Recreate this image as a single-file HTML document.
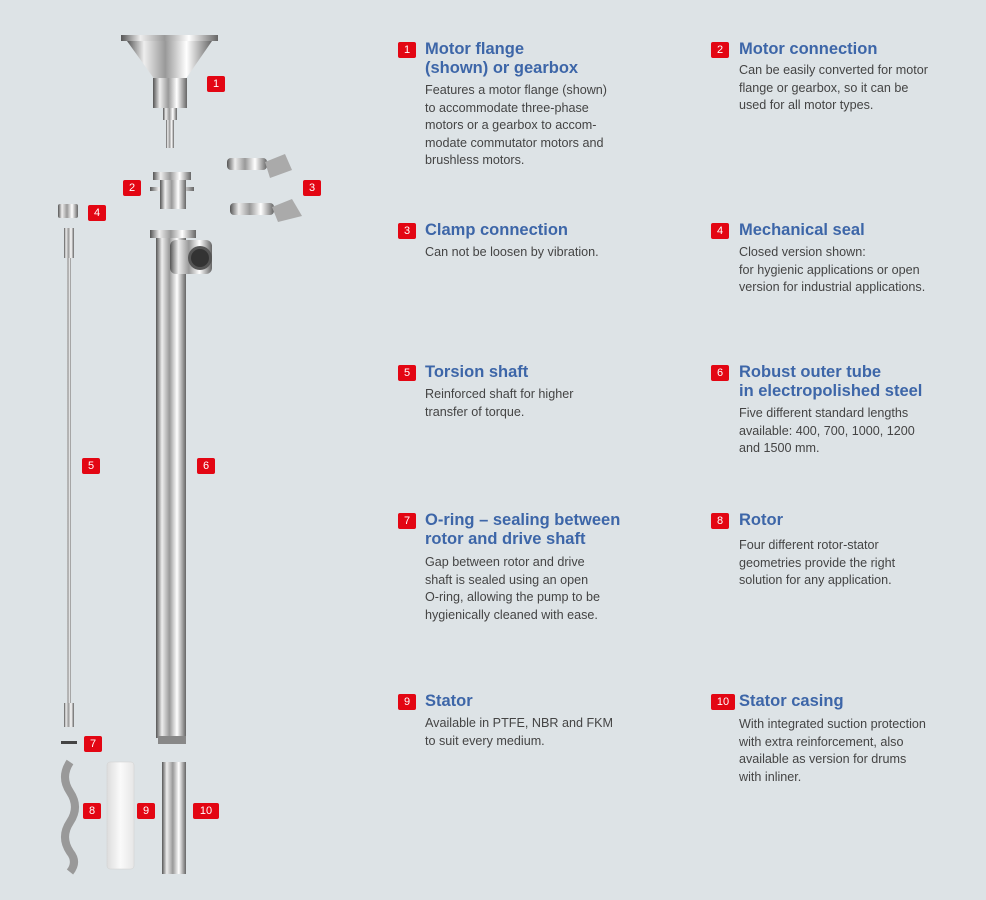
<!DOCTYPE html>
<html><head><meta charset="utf-8">
<style>
body{margin:0;width:986px;height:900px;background:#dde3e6;font-family:"Liberation Sans",sans-serif;position:relative;overflow:hidden}
.b{position:absolute;background:#e30613;color:#fff;font-size:11px;line-height:16px;height:16px;width:18px;text-align:center;border-radius:2px}
.t{position:absolute;color:#3d66a8;font-weight:bold;font-size:16.5px;line-height:19px}
.d{position:absolute;color:#444;font-size:12.6px;line-height:17.5px}
svg{position:absolute;left:0;top:0}
</style></head><body>
<svg width="360" height="900">
<defs>
<linearGradient id="m" x1="0" x2="1"><stop offset="0" stop-color="#555"/><stop offset=".2" stop-color="#eee"/><stop offset=".45" stop-color="#999"/><stop offset=".7" stop-color="#fff"/><stop offset="1" stop-color="#666"/></linearGradient>
<linearGradient id="w" x1="0" x2="1"><stop offset="0" stop-color="#ddd"/><stop offset=".5" stop-color="#fafafa"/><stop offset="1" stop-color="#e6e6e6"/></linearGradient>
</defs>
<rect x="121" y="35" width="97" height="6" fill="url(#m)"/>
<polygon points="127,41 212,41 185,80 155,80" fill="url(#m)"/>
<rect x="153" y="78" width="34" height="30" fill="url(#m)"/>
<rect x="163" y="108" width="14" height="12" fill="url(#m)"/>
<rect x="166" y="120" width="8" height="28" fill="url(#m)"/>
<rect x="153" y="172" width="38" height="8" fill="url(#m)"/>
<rect x="150" y="187" width="44" height="4" fill="url(#m)"/>
<rect x="160" y="180" width="26" height="29" fill="url(#m)"/>
<rect x="227" y="158" width="40" height="12" rx="4" fill="url(#m)"/>
<polygon points="265,162 285,154 292,170 270,178" fill="#aaa"/>
<rect x="230" y="203" width="44" height="12" rx="4" fill="url(#m)"/>
<polygon points="272,207 292,199 302,216 278,222" fill="#aaa"/>
<rect x="58" y="204" width="20" height="14" rx="2" fill="url(#m)"/>
<rect x="64" y="228" width="10" height="30" fill="url(#m)"/>
<rect x="67" y="258" width="4" height="445" fill="url(#m)"/>
<rect x="64" y="703" width="10" height="24" fill="url(#m)"/>
<rect x="150" y="230" width="46" height="8" fill="url(#m)"/>
<rect x="156" y="238" width="30" height="500" fill="url(#m)"/>
<rect x="170" y="240" width="42" height="34" rx="6" fill="url(#m)"/>
<circle cx="200" cy="258" r="12" fill="#555"/><circle cx="200" cy="258" r="9" fill="#333"/>
<rect x="158" y="736" width="28" height="8" fill="#888"/>
<rect x="61" y="741" width="16" height="3" fill="#444"/>
<path d="M70 762 q-10 15 0 30 q10 15 0 30 q-10 15 0 30 q8 10 0 20" stroke="#999" stroke-width="8" fill="none"/>
<rect x="107" y="762" width="27" height="107" rx="3" fill="url(#w)" stroke="#d0d0d0" stroke-width="0.5"/>
<rect x="162" y="762" width="24" height="112" fill="url(#m)"/>
</svg>
<div class="b" style="left:207px;top:76px">1</div>
<div class="b" style="left:123px;top:180px">2</div>
<div class="b" style="left:303px;top:180px">3</div>
<div class="b" style="left:88px;top:205px">4</div>
<div class="b" style="left:82px;top:458px">5</div>
<div class="b" style="left:197px;top:458px">6</div>
<div class="b" style="left:84px;top:736px">7</div>
<div class="b" style="left:83px;top:803px">8</div>
<div class="b" style="left:137px;top:803px">9</div>
<div class="b" style="left:193px;top:803px;width:26px">10</div>

<div class="b" style="left:398px;top:42px">1</div>
<div class="t" style="left:425px;top:40px">Motor flange<br>(shown) or gearbox</div>
<div class="d" style="left:425px;top:82px">Features a motor flange (shown)<br>to accommodate three-phase<br>motors or a gearbox to accom-<br>modate commutator motors and<br>brushless motors.</div>

<div class="b" style="left:711px;top:42px">2</div>
<div class="t" style="left:739px;top:40px">Motor connection</div>
<div class="d" style="left:739px;top:62px">Can be easily converted for motor<br>flange or gearbox, so it can be<br>used for all motor types.</div>

<div class="b" style="left:398px;top:223px">3</div>
<div class="t" style="left:425px;top:221px">Clamp connection</div>
<div class="d" style="left:425px;top:244px">Can not be loosen by vibration.</div>

<div class="b" style="left:711px;top:223px">4</div>
<div class="t" style="left:739px;top:221px">Mechanical seal</div>
<div class="d" style="left:739px;top:244px">Closed version shown:<br>for hygienic applications or open<br>version for industrial applications.</div>

<div class="b" style="left:398px;top:365px">5</div>
<div class="t" style="left:425px;top:363px">Torsion shaft</div>
<div class="d" style="left:425px;top:386px">Reinforced shaft for higher<br>transfer of torque.</div>

<div class="b" style="left:711px;top:365px">6</div>
<div class="t" style="left:739px;top:363px">Robust outer tube<br>in electropolished steel</div>
<div class="d" style="left:739px;top:405px">Five different standard lengths<br>available: 400, 700, 1000, 1200<br>and 1500 mm.</div>

<div class="b" style="left:398px;top:513px">7</div>
<div class="t" style="left:425px;top:511px">O-ring – sealing between<br>rotor and drive shaft</div>
<div class="d" style="left:425px;top:554px">Gap between rotor and drive<br>shaft is sealed using an open<br>O-ring, allowing the pump to be<br>hygienically cleaned with ease.</div>

<div class="b" style="left:711px;top:513px">8</div>
<div class="t" style="left:739px;top:511px">Rotor</div>
<div class="d" style="left:739px;top:537px">Four different rotor-stator<br>geometries provide the right<br>solution for any application.</div>

<div class="b" style="left:398px;top:694px">9</div>
<div class="t" style="left:425px;top:692px">Stator</div>
<div class="d" style="left:425px;top:715px">Available in PTFE, NBR and FKM<br>to suit every medium.</div>

<div class="b" style="left:711px;top:694px;width:24px">10</div>
<div class="t" style="left:739px;top:692px">Stator casing</div>
<div class="d" style="left:739px;top:716px">With integrated suction protection<br>with extra reinforcement, also<br>available as version for drums<br>with inliner.</div>
</body></html>
